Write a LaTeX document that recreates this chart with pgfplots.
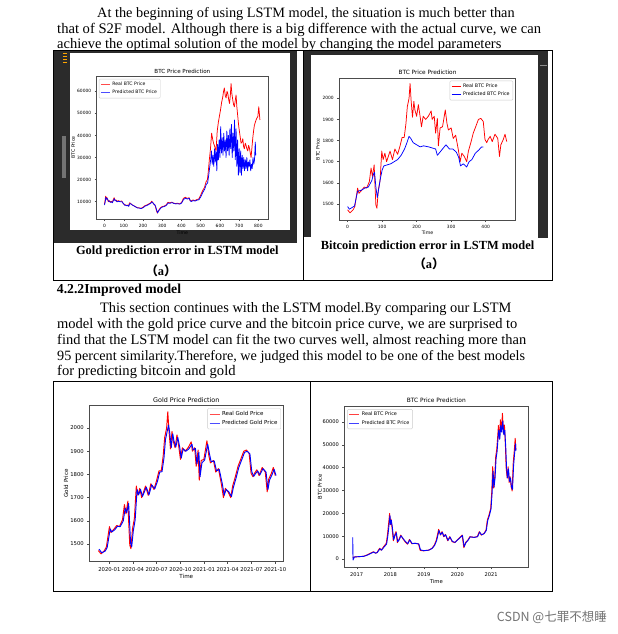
\documentclass[border=0pt]{standalone}
\usepackage{fontspec}
\setmainfont{Liberation Serif}
\newfontfamily\dv{DejaVu Sans}
\newfontfamily\cjk{Noto Sans CJK SC}
\usepackage{pgfplots}
\usepackage{pgfplotstable}
\pgfplotsset{compat=1.18}

\newcommand\fs[1]{\fontsize{#1bp}{#1bp}\selectfont}

\pgfplotstableread{
t v
0 9000
3 10500
6 12500
9 11000
12 12000
16 11000
20 10000
25 10500
30 9800
35 10200
40 9600
45 10800
50 11800
55 10500
60 10800
65 10000
70 10500
80 10200
90 10300
95 9500
100 9000
105 8500
110 8600
115 8200
120 8500
125 8000
130 9500
135 9300
140 8800
150 8300
160 7800
170 7300
180 7200
190 7000
200 7500
210 8200
220 8500
230 9000
240 9500
245 10200
250 9800
255 9000
260 8800
265 7800
270 6000
275 4800
280 6000
285 6500
290 7200
300 7800
310 8000
320 8500
330 9700
340 9500
350 9800
360 9300
370 9200
380 9300
390 9000
400 9600
405 10500
410 11500
420 12000
430 11500
440 11800
445 10500
450 10300
460 10800
470 10500
480 11000
490 11200
500 13000
510 15000
520 16500
528 19000
535 20000
540 24000
545 29000
550 33000
557 41000
563 38000
567 36500
573 35000
580 33000
586 42000
592 46000
598 49000
603 51500
609 55000
615 57500
619 60000
623 61500
628 58000
632 57000
637 60000
641 59000
646 56000
650 54500
654 58000
658 63500
662 59000
667 56000
671 54000
675 53000
680 56000
684 58300
688 53000
693 48500
698 44000
702 41500
706 39000
710 36500
715 37000
719 38500
723 35000
727 34000
732 36500
736 35500
740 34000
745 33000
749 35500
753 34500
758 32000
762 30000
767 35000
771 39000
775 42000
779 44500
784 46000
788 47000
793 48000
797 48500
800 51000
802 53000
805 50000
808 47000
}\tlred

\pgfplotstableread{
t v
0 8500
4 10000
7 12000
10 11200
13 11500
17 11000
21 10200
26 10200
31 9700
36 10000
41 9500
46 10500
51 11300
56 10400
61 10500
66 9900
71 10200
81 10000
91 10000
96 9400
101 8900
106 8400
111 8400
116 8100
121 8300
126 7900
131 9100
136 9100
141 8700
151 8200
161 7700
171 7200
181 7100
191 6900
201 7300
211 8000
221 8300
231 8800
241 9300
246 9900
251 9600
256 8900
261 8700
266 7800
271 6200
276 5000
281 5800
286 6300
291 7000
301 7600
311 7800
321 8300
331 9400
341 9300
351 9600
361 9200
371 9000
381 9100
391 8900
401 9400
406 10200
411 11000
421 11600
431 11200
441 11500
446 10400
451 10100
461 10500
471 10300
481 10700
491 10900
501 12300
511 14200
521 15700
529 17800
536 18500
541 21500
546 25000
552 29000
556 33000
560 27000
564 31000
568 26000
572 34000
576 28000
580 33000
584 24000
588 36000
592 29000
596 38000
600 30000
604 44000
608 32000
612 39000
616 31000
620 41000
624 33000
628 38000
632 30000
636 42000
640 33000
644 40000
648 31000
652 43000
656 34000
660 45000
664 30000
668 41000
672 33000
676 47000
680 29000
684 43000
688 26000
692 38000
696 22000
700 34000
704 23000
708 33000
712 22000
716 31000
720 25000
724 30000
728 24000
732 29000
736 25000
740 30000
744 24000
748 28000
752 26000
756 29000
760 24000
764 27000
768 25000
772 30000
776 27000
780 29000
784 37000
786 31000
}\tlblue

\pgfplotstableread{
t v
0 1472
7 1458
16 1472
21 1488
29 1575
33 1550
41 1565
48 1580
55 1575
63 1605
68 1670
72 1630
77 1685
79 1600
82 1495
85 1480
89 1565
94 1610
99 1750
103 1710
108 1740
113 1700
123 1750
130 1710
137 1760
145 1735
152 1775
158 1815
164 1815
169 1880
173 1960
178 2000
181 2070
184 1990
188 1910
192 1985
195 1945
200 1915
205 1970
210 1915
214 1865
219 1915
226 1900
234 1915
242 1940
245 1900
251 1915
255 1835
260 1905
263 1775
268 1860
275 1865
283 1945
288 1880
292 1850
300 1860
306 1810
313 1825
321 1755
326 1700
331 1740
338 1725
345 1700
350 1750
357 1790
364 1835
371 1865
379 1900
386 1905
393 1890
398 1805
403 1790
407 1805
413 1820
419 1795
427 1830
435 1810
440 1725
444 1780
451 1805
456 1830
461 1795
}\gold

\pgfplotstableread{
t v
0 1488
5 1475
10 1480
20 1490
29 1560
40 1565
50 1575
60 1580
70 1610
75 1640
78 1650
82 1580
86 1530
90 1570
95 1620
100 1660
105 1680
115 1685
125 1690
135 1700
145 1710
155 1730
165 1760
172 1790
178 1820
183 1810
190 1790
200 1780
210 1770
220 1775
235 1770
245 1765
255 1760
260 1730
265 1740
275 1760
285 1780
295 1760
305 1760
315 1745
322 1720
327 1680
335 1690
345 1675
352 1700
360 1710
370 1740
380 1755
388 1770
393 1770
}\trblue

\pgfplotstableread{
t v
2 1478
9 1462
18 1470
23 1485
31 1565
35 1552
43 1562
50 1577
57 1575
65 1600
70 1655
74 1635
79 1675
81 1610
84 1505
87 1488
91 1555
96 1605
101 1735
105 1712
110 1735
115 1705
125 1745
132 1712
139 1755
147 1738
154 1770
160 1810
166 1812
171 1870
175 1950
180 1990
183 2012
186 1980
190 1915
194 1975
197 1945
202 1918
207 1960
212 1918
216 1870
221 1910
228 1900
236 1910
244 1930
247 1905
253 1912
257 1845
262 1895
265 1790
270 1850
277 1862
285 1930
290 1885
294 1855
302 1858
308 1815
315 1822
323 1760
328 1710
333 1735
340 1725
347 1705
352 1745
359 1785
366 1830
373 1860
381 1895
388 1900
395 1888
400 1810
405 1792
409 1802
415 1815
421 1798
429 1825
437 1810
442 1735
446 1775
453 1800
458 1822
463 1795
}\blblue

\pgfplotstableread{
t v
2016.88 700
2016.92 900
2017.0 1000
2017.1 1100
2017.2 1200
2017.3 1750
2017.4 2500
2017.5 3200
2017.55 2600
2017.6 2800
2017.68 4700
2017.73 3900
2017.8 5400
2017.88 6900
2017.92 11200
2017.96 17000
2017.98 20000
2018.0 15000
2018.02 17500
2018.05 14000
2018.09 8000
2018.13 10500
2018.17 12000
2018.21 7200
2018.25 8300
2018.31 10500
2018.37 9000
2018.44 7600
2018.51 6500
2018.57 8600
2018.64 6700
2018.74 6900
2018.84 6600
2018.89 3800
2018.99 3600
2019.14 3900
2019.24 4700
2019.31 6100
2019.37 8300
2019.44 13000
2019.49 10500
2019.54 12000
2019.59 9800
2019.64 10800
2019.71 8000
2019.77 9800
2019.84 7600
2019.92 7200
2019.99 8300
2020.07 9500
2020.14 10500
2020.19 5000
2020.24 7200
2020.31 8300
2020.37 9800
2020.49 9500
2020.59 9800
2020.65 12000
2020.71 10500
2020.79 11200
2020.85 12700
2020.89 17100
2020.94 19300
2020.99 22200
2021.02 29000
2021.05 40500
2021.08 31000
2021.11 36000
2021.14 45000
2021.17 48000
2021.20 54000
2021.22 58500
2021.25 52500
2021.28 61000
2021.31 56000
2021.34 63800
2021.37 55000
2021.40 58700
2021.43 49000
2021.45 40000
2021.48 35500
2021.51 40400
2021.54 33500
2021.57 36000
2021.60 31500
2021.63 29800
2021.66 41900
2021.69 47000
2021.72 52900
2021.74 48000
}\brred

\pgfplotstableread{
t v
2016.88 9500
2016.89 -400
2016.93 900
2017.01 1000
2017.11 1100
2017.21 1200
2017.31 1700
2017.41 2400
2017.51 3100
2017.56 2600
2017.61 2800
2017.69 4500
2017.74 3900
2017.81 5200
2017.89 6600
2017.93 10500
2017.97 16000
2017.99 19000
2018.01 15200
2018.03 17000
2018.06 14000
2018.10 8500
2018.14 10300
2018.18 11500
2018.22 7600
2018.26 8300
2018.32 10200
2018.38 9000
2018.45 7700
2018.52 6700
2018.58 8400
2018.65 6800
2018.75 6900
2018.85 6600
2018.90 4000
2019.00 3700
2019.15 3900
2019.25 4700
2019.32 6000
2019.38 8100
2019.45 12500
2019.50 10700
2019.55 11700
2019.60 9900
2019.65 10600
2019.72 8200
2019.78 9600
2019.85 7700
2019.93 7300
2020.00 8300
2020.08 9400
2020.15 10300
2020.20 5400
2020.25 7100
2020.32 8300
2020.38 9700
2020.50 9500
2020.60 9800
2020.66 11800
2020.72 10600
2020.80 11200
2020.86 12600
2020.90 16800
2020.95 19000
2021.00 22000
2021.03 28500
2021.06 38500
2021.09 31500
2021.12 35500
2021.15 44000
2021.18 47000
2021.21 53000
2021.23 56500
2021.26 52500
2021.29 58500
2021.32 55500
2021.35 60500
2021.38 54500
2021.41 56500
2021.44 48500
2021.46 40500
2021.49 35500
2021.52 39500
2021.55 34000
2021.58 35500
2021.61 31500
2021.64 30500
2021.67 40500
2021.70 46000
2021.73 50500
2021.74 47500
}\brblue

\pgfplotsset{
  mpl/.style={
    scale only axis,
    scaled x ticks=false, scaled y ticks=false,
    axis line style={black!70, line width=0.45bp},
    every tick/.style={black!70, line width=0.45bp},
    tick align=outside,
    major tick length=2bp,
    xtick pos=left, ytick pos=left,
    legend cell align=left,
    every axis plot/.append style={no markers, line join=round},
  },
}

\begin{document}
\begin{tikzpicture}
\path[use as bounding box, fill=white] (0,0) rectangle (618bp,-634bp);

% ---- text ----
\begin{scope}[every node/.style={anchor=base west, inner sep=0pt}]
\node[font=\fs{14.3}] at (97bp,-17bp) {At the beginning of using LSTM model, the situation is much better than};
\node[font=\fs{14.6}] at (57bp,-33bp) {that of S2F model. Although there is a big difference with the actual curve, we can};
\node[font=\fs{14.5}] at (57bp,-48bp) {achieve the optimal solution of the model by changing the model parameters};
\node[font=\bfseries\fs{13.7}] at (56.7bp,-293.3bp) {4.2.2Improved model};
\node[font=\fs{14.4}] at (100bp,-312.7bp) {This section continues with the LSTM model.By comparing our LSTM};
\node[font=\fs{14.5}] at (57bp,-328.5bp) {model with the gold price curve and the bitcoin price curve, we are surprised to};
\node[font=\fs{14.45}] at (57bp,-344.3bp) {find that the LSTM model can fit the two curves well, almost reaching more than};
\node[font=\fs{14.2}] at (57bp,-360.1bp) {95 percent similarity.Therefore, we judged this model to be one of the best models};
\node[font=\fs{14.6}] at (57bp,-375.9bp) {for predicting bitcoin and gold};
\end{scope}

% ---- screenshot borders (top) ----
\fill[black!83] (54bp,-50bp) rectangle (297bp,-243bp);
\fill[white] (70bp,-53bp) rectangle (290bp,-230bp);
\fill[orange!70!yellow] (62.5bp,-53bp) rectangle (66.5bp,-54.2bp);
\fill[orange!70!yellow] (62.5bp,-56bp) rectangle (66.5bp,-57.2bp);
\fill[orange!70!yellow] (62.5bp,-59bp) rectangle (66.5bp,-60.2bp);
\fill[orange!70!yellow] (62.5bp,-62bp) rectangle (66.5bp,-63.2bp);
\fill[black!55] (62bp,-136bp) rectangle (66bp,-178bp);
\fill[black!83] (304bp,-50bp) rectangle (548bp,-55bp);
\fill[black!83] (304bp,-50bp) rectangle (311bp,-237bp);
\fill[black!83] (538bp,-50bp) rectangle (548bp,-238bp);
\draw[black!45, line width=0.6bp] (540bp,-65.5bp) -- (547bp,-65.5bp);

% ---- frames ----
\draw[black, line width=0.7bp] (53bp,-50bp) rectangle (552bp,-280bp);
\draw[black, line width=0.7bp] (303bp,-50bp) -- (303bp,-280bp);
\draw[black, line width=0.7bp] (53bp,-381bp) rectangle (552bp,-591bp);
\draw[black, line width=0.7bp] (310bp,-381bp) -- (310bp,-591bp);

% ---- captions ----
\node[anchor=base, inner sep=0pt, font=\bfseries\fs{12.45}] at (177.3bp,-254.5bp) {Gold prediction error in LSTM model};
\node[anchor=base, inner sep=0pt, font=\bfseries\fs{12.4}] at (161bp,-275bp) {{\cjk （}a{\cjk ）}};
\node[anchor=base, inner sep=0pt, font=\bfseries\fs{12.4}] at (427.5bp,-249bp) {Bitcoin prediction error in LSTM model};
\node[anchor=base, inner sep=0pt, font=\bfseries\fs{12.4}] at (429bp,-268bp) {{\cjk （}a{\cjk ）}};

\node[anchor=base east, inner sep=0pt, font=\cjk\fs{12.5}, text=black!55] at (607bp,-621bp) {CSDN @七罪不想睡};

% ---- top left ----
\begin{axis}[mpl, at={(96.7bp,-219bp)}, anchor=south west,
  width=171.3bp, height=143bp,
  xmin=-40.5, xmax=850, ymin=2165, ymax=66930,
  xtick={0,100,200,300,400,500,600,700,800},
  xticklabels={0,100,200,300,400,500,600,700,800},
  ytick={10000,20000,30000,40000,50000,60000},
  yticklabels={10000,20000,30000,40000,50000,60000},
  tick label style={font=\dv\fs{4.4}},
  title={BTC Price Prediction},
  every axis title/.style={font=\dv\fs{5.6}, at={(0.5,1)}, anchor=base, yshift=2.5bp},
  xlabel={Time}, ylabel={BTC Price},
  every axis x label/.style={at={(axis description cs:0.5,-0.093)}, anchor=center, font=\dv\fs{4.7}},
  every axis y label/.style={at={(axis description cs:-0.138,0.5)}, anchor=center, rotate=90, font=\dv\fs{4.7}},
  legend style={at={(0.013,0.979)}, anchor=north west, draw=black!20, rounded corners=1bp,
    font=\dv\fs{4.6}, inner xsep=1.2bp, inner ysep=0.8bp, row sep=-0.6bp},
  legend image code/.code={\draw[#1, line width=1.1bp, opacity=0.7] (0bp,0bp) -- (9bp,0bp);},
]
\addplot[red, line width=0.75bp] table[x=t,y=v] {\tlred};
\addlegendentry{Real BTC Price}
\addplot[blue, line width=0.75bp] table[x=t,y=v] {\tlblue};
\addlegendentry{Predicted BTC Price}
\end{axis}

% ---- top right ----
\begin{axis}[mpl, at={(339.3bp,-220bp)}, anchor=south west,
  width=176.4bp, height=141.7bp,
  xmin=-24, xmax=487, ymin=1424, ymax=2094.6,
  xtick={0,100,200,300,400}, xticklabels={0,100,200,300,400},
  ytick={1500,1600,1700,1800,1900,2000}, yticklabels={1500,1600,1700,1800,1900,2000},
  tick label style={font=\dv\fs{4.4}},
  title={BTC Price Prediction},
  every axis title/.style={font=\dv\fs{5.8}, at={(0.5,1)}, anchor=base, yshift=4bp},
  xlabel={Time}, ylabel={BTC Price},
  every axis x label/.style={at={(axis description cs:0.5,-0.09)}, anchor=center, font=\dv\fs{4.7}},
  every axis y label/.style={at={(axis description cs:-0.122,0.5)}, anchor=center, rotate=90, font=\dv\fs{4.7}},
  legend style={at={(0.985,0.983)}, anchor=north east, draw=black!20, rounded corners=1bp,
    font=\dv\fs{4.8}, inner xsep=1.2bp, inner ysep=0.8bp, row sep=-0.6bp},
  legend image code/.code={\draw[#1, line width=1bp] (0bp,0bp) -- (9bp,0bp);},
]
\addplot[red, line width=0.75bp] table[x=t,y=v] {\gold};
\addlegendentry{Real BTC Price}
\addplot[blue, line width=0.75bp] table[x=t,y=v] {\trblue};
\addlegendentry{Predicted BTC Price}
\end{axis}

% ---- bottom left ----
\begin{axis}[mpl, at={(89.3bp,-561.7bp)}, anchor=south west,
  width=194bp, height=156.7bp,
  xmin=-23.5, xmax=482, ymin=1424, ymax=2099,
  xtick={28.7,90.4,152,213.8,275.5,337,399,460.6},
  xticklabels={2020-01,2020-04,2020-07,2020-10,2021-01,2021-04,2021-07,2021-10},
  ytick={1500,1600,1700,1800,1900,2000}, yticklabels={1500,1600,1700,1800,1900,2000},
  tick label style={font=\dv\fs{5.3}},
  title={Gold Price Prediction},
  every axis title/.style={font=\dv\fs{6.4}, at={(0.5,1)}, anchor=base, yshift=3bp},
  xlabel={Time}, ylabel={Gold Price},
  every axis x label/.style={at={(axis description cs:0.5,-0.096)}, anchor=center, font=\dv\fs{5.6}},
  every axis y label/.style={at={(axis description cs:-0.12,0.5)}, anchor=center, rotate=90, font=\dv\fs{5.6}},
  legend style={at={(0.988,0.979)}, anchor=north east, draw=black!20, rounded corners=1bp,
    font=\dv\fs{5.5}, inner xsep=1.3bp, inner ysep=0.9bp, row sep=-0.6bp},
  legend image code/.code={\draw[#1, line width=1.2bp, opacity=0.7] (0bp,0bp) -- (10bp,0bp);},
]
\addplot[red, line width=0.95bp] table[x=t,y=v] {\gold};
\addlegendentry{Real Gold Price}
\addplot[blue, line width=0.95bp] table[x=t,y=v] {\blblue};
\addlegendentry{Predicted Gold Price}
\end{axis}

% ---- bottom right ----
\begin{axis}[mpl, at={(344.3bp,-567.3bp)}, anchor=south west,
  width=184bp, height=161.3bp,
  xmin=2016.63, xmax=2022.11, ymin=-3610, ymax=67010,
  xtick={2017,2018,2019,2020,2021}, xticklabels={2017,2018,2019,2020,2021},
  ytick={0,10000,20000,30000,40000,50000,60000},
  yticklabels={0,10000,20000,30000,40000,50000,60000},
  tick label style={font=\dv\fs{5.1}},
  title={BTC Price Prediction},
  every axis title/.style={font=\dv\fs{5.9}, at={(0.5,1)}, anchor=base, yshift=3.5bp},
  xlabel={Time}, ylabel={BTC Price},
  every axis x label/.style={at={(axis description cs:0.5,-0.089)}, anchor=center, font=\dv\fs{5.3}},
  every axis y label/.style={at={(axis description cs:-0.132,0.5)}, anchor=center, rotate=90, font=\dv\fs{5.3}},
  legend style={at={(0.016,0.98)}, anchor=north west, draw=black!20, rounded corners=1bp,
    font=\dv\fs{4.9}, inner xsep=1.2bp, inner ysep=0.8bp, row sep=-0.6bp},
  legend image code/.code={\draw[#1, line width=1.2bp, opacity=0.75] (0bp,0bp) -- (10bp,0bp);},
]
\addplot[red, line width=0.9bp] table[x=t,y=v] {\brred};
\addlegendentry{Real BTC Price}
\addplot[blue, line width=0.9bp] table[x=t,y=v] {\brblue};
\addlegendentry{Predicted BTC Price}
\end{axis}
\end{tikzpicture}
\end{document}
